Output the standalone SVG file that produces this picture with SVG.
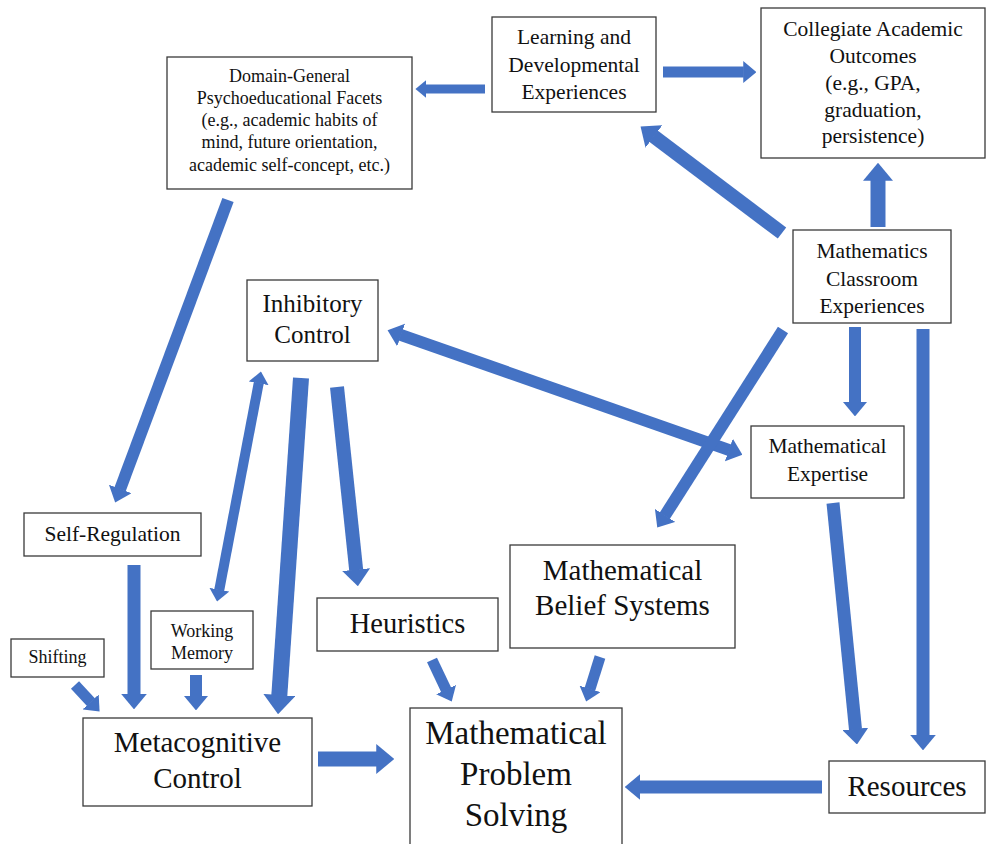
<svg xmlns="http://www.w3.org/2000/svg" width="986" height="844" viewBox="0 0 986 844" font-family="'Liberation Serif', 'Times New Roman', serif">
<style>
.box{fill:#fff;stroke:#3a3a3a;stroke-width:1.3}
text{font-family:'Liberation Serif','Times New Roman',serif;fill:#111;text-anchor:middle}
.f18{font-size:18px}.f21{font-size:21.5px}.f25{font-size:25px}.f28{font-size:28.5px}.f29{font-size:29px}.f33{font-size:33px}
.c line{stroke:#4472C4;fill:none}
</style>
<defs>
<marker id="ah" viewBox="0 0 12 20" markerWidth="1.2" markerHeight="2" refX="0.5" refY="10" orient="auto-start-reverse">
<path d="M0,0 L12,10 L0,20 z" fill="#4472C4"/>
</marker>
</defs>
<rect width="986" height="844" fill="#fff"/>

<g id="connectors" class="c">
<line x1="485" y1="89" x2="425.8" y2="89" stroke-width="9" marker-end="url(#ah)"/>
<line x1="663" y1="72" x2="743.8" y2="72" stroke-width="11" marker-end="url(#ah)"/>
<line x1="782" y1="233" x2="653.4" y2="136.1" stroke-width="14" marker-end="url(#ah)"/>
<line x1="878" y1="227" x2="878" y2="180" stroke-width="15" marker-end="url(#ah)"/>
<line x1="228" y1="200" x2="120" y2="489.5" stroke-width="12" marker-end="url(#ah)"/>
<line x1="400.6" y1="334.8" x2="729.4" y2="450.2" stroke-width="12" marker-start="url(#ah)" marker-end="url(#ah)"/>
<line x1="258.8" y1="382.8" x2="219.2" y2="590.2" stroke-width="10" marker-start="url(#ah)" marker-end="url(#ah)"/>
<line x1="301" y1="378" x2="279.3" y2="695.8" stroke-width="16" marker-end="url(#ah)"/>
<line x1="337" y1="387" x2="356.2" y2="570.3" stroke-width="14" marker-end="url(#ah)"/>
<line x1="134" y1="565" x2="134" y2="694.4" stroke-width="13" marker-end="url(#ah)"/>
<line x1="75" y1="685" x2="91" y2="702.3" stroke-width="11" marker-end="url(#ah)"/>
<line x1="196" y1="675" x2="196" y2="696.6" stroke-width="12" marker-end="url(#ah)"/>
<line x1="318" y1="759" x2="377" y2="759" stroke-width="15" marker-end="url(#ah)"/>
<line x1="432" y1="660" x2="446.3" y2="690.1" stroke-width="11" marker-end="url(#ah)"/>
<line x1="600" y1="657" x2="589.9" y2="689.4" stroke-width="11" marker-end="url(#ah)"/>
<line x1="783" y1="330" x2="664.7" y2="515.9" stroke-width="12" marker-end="url(#ah)"/>
<line x1="855" y1="327" x2="855" y2="402.6" stroke-width="12" marker-end="url(#ah)"/>
<line x1="923" y1="329" x2="923" y2="735.4" stroke-width="13" marker-end="url(#ah)"/>
<line x1="833" y1="503" x2="855.5" y2="729.5" stroke-width="13" marker-end="url(#ah)"/>
<line x1="822" y1="787" x2="639.6" y2="787" stroke-width="13" marker-end="url(#ah)"/>
</g>

<g id="domain-general">
<rect class="box" x="167" y="57" width="245" height="132"/>
<text class="f18" x="289.5" y="81.5">Domain-General</text>
<text class="f18" x="289.5" y="103.8">Psychoeducational Facets</text>
<text class="f18" x="289.5" y="126">(e.g., academic habits of</text>
<text class="f18" x="289.5" y="148.3">mind, future orientation,</text>
<text class="f18" x="289.5" y="170.5">academic self-concept, etc.)</text>
</g>

<g id="learning">
<rect class="box" x="492" y="17" width="164" height="95"/>
<text class="f21" x="574" y="44">Learning and</text>
<text class="f21" x="574" y="71.5">Developmental</text>
<text class="f21" x="574" y="99">Experiences</text>
</g>

<g id="collegiate">
<rect class="box" x="761" y="8" width="224" height="150"/>
<text class="f21" x="873" y="36">Collegiate Academic</text>
<text class="f21" x="873" y="63">Outcomes</text>
<text class="f21" x="873" y="90">(e.g., GPA,</text>
<text class="f21" x="873" y="116.5">graduation,</text>
<text class="f21" x="873" y="143">persistence)</text>
</g>

<g id="classroom">
<rect class="box" x="793" y="230" width="158" height="93"/>
<text class="f21" x="872" y="258">Mathematics</text>
<text class="f21" x="872" y="285.5">Classroom</text>
<text class="f21" x="872" y="313">Experiences</text>
</g>

<g id="inhibitory">
<rect class="box" x="247" y="280" width="131" height="81"/>
<text class="f25" x="312.5" y="312">Inhibitory</text>
<text class="f25" x="312.5" y="343">Control</text>
</g>

<g id="expertise">
<rect class="box" x="751" y="426" width="153" height="72"/>
<text class="f21" x="827.5" y="453">Mathematical</text>
<text class="f21" x="827.5" y="480.5">Expertise</text>
</g>

<g id="self-regulation">
<rect class="box" x="24" y="513" width="177" height="43"/>
<text class="f21" x="112.5" y="541">Self-Regulation</text>
</g>

<g id="shifting">
<rect class="box" x="11" y="639" width="93" height="38"/>
<text class="f18" x="57.5" y="663">Shifting</text>
</g>

<g id="working-memory">
<rect class="box" x="151" y="611" width="102" height="58"/>
<text class="f18" x="202" y="637">Working</text>
<text class="f18" x="202" y="658.5">Memory</text>
</g>

<g id="metacognitive">
<rect class="box" x="83" y="718" width="229" height="88"/>
<text class="f29" x="197.5" y="752">Metacognitive</text>
<text class="f29" x="197.5" y="788">Control</text>
</g>

<g id="heuristics">
<rect class="box" x="317" y="598" width="181" height="53"/>
<text class="f28" x="407.5" y="633">Heuristics</text>
</g>

<g id="belief-systems">
<rect class="box" x="510" y="545" width="225" height="103"/>
<text class="f29" x="622.5" y="580">Mathematical</text>
<text class="f29" x="622.5" y="615">Belief Systems</text>
</g>

<g id="problem-solving">
<rect class="box" x="410" y="708" width="212" height="150"/>
<text class="f33" x="516" y="744">Mathematical</text>
<text class="f33" x="516" y="785">Problem</text>
<text class="f33" x="516" y="826">Solving</text>
</g>

<g id="resources">
<rect class="box" x="829" y="761" width="156" height="52"/>
<text class="f29" x="907" y="796">Resources</text>
</g>
</svg>
